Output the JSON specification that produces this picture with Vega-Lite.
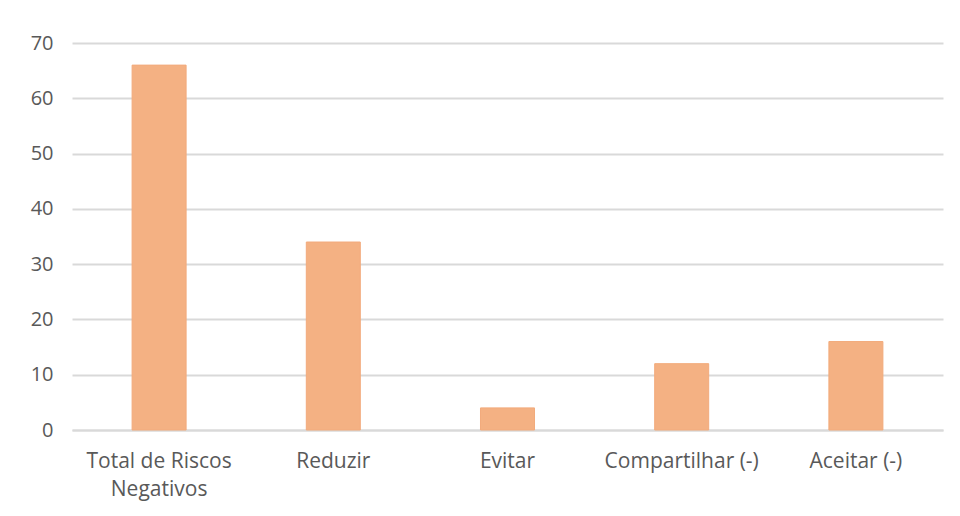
{
  "$schema": "https://vega.github.io/schema/vega-lite/v6.json",
  "width": 871,
  "height": 387,
  "autosize": {"type": "none"},
  "padding": {"left": 72, "top": 43, "right": 17, "bottom": 86},
  "background": "white",
  "config": {"view": {"stroke": null}},
  "data": {"values": [
    {"cat": "Total de Riscos Negativos", "v": 66},
    {"cat": "Reduzir", "v": 34},
    {"cat": "Evitar", "v": 4},
    {"cat": "Compartilhar (-)", "v": 12},
    {"cat": "Aceitar (-)", "v": 16}
  ]},
  "mark": {"type": "bar", "color": "#F4B183", "stroke": "#F2AB7C", "strokeWidth": 1},
  "encoding": {
    "x": {"field": "cat", "type": "nominal", "sort": null,
      "scale": {"paddingInner": 0.69, "paddingOuter": 0.345},
      "axis": {"title": null, "labelAngle": 0, "ticks": false,
        "domainColor": "#d9d9d9", "domainWidth": 2,
        "labelFont": "Open Sans", "labelFontSize": 21, "labelColor": "#595959",
        "labelPadding": 20, "labelLineHeight": 28,
        "labelExpr": "datum.label == 'Total de Riscos Negativos' ? ['Total de Riscos', 'Negativos'] : datum.label"}},
    "y": {"field": "v", "type": "quantitative",
      "scale": {"domain": [0, 70]},
      "axis": {"title": null, "values": [0,10,20,30,40,50,60,70], "domain": false, "ticks": false,
        "gridColor": "#d9d9d9", "gridWidth": 2,
        "labelFont": "Open Sans", "labelFontSize": 20, "labelColor": "#595959", "labelPadding": 19}}
  }
}
